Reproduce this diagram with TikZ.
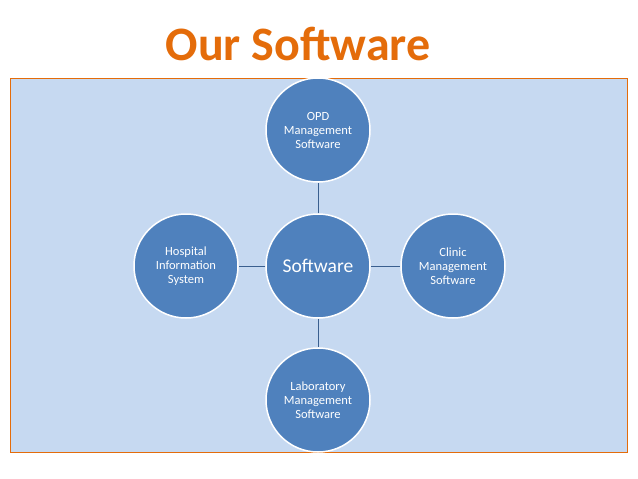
\documentclass[tikz,border=0pt]{standalone}
\usepackage{fontspec}
\setmainfont{Carlito}
\usetikzlibrary{positioning}
\definecolor{panel}{HTML}{C6D9F1}
\definecolor{bubble}{HTML}{4F81BD}
\definecolor{rim}{HTML}{E46C0A}
\definecolor{link}{HTML}{3A5F8F}
\begin{document}
\begin{tikzpicture}[x=1pt,y=-1pt,
    node distance=30pt, % spacing between circles
    ]
% -------------------------------------------------
\tikzset{
  hub/.style={circle, draw=white, line width=1.5pt, fill=bubble, text=white,
    minimum size=104pt, inner sep=0pt, align=center, font=\fontsize{12.5}{14}\selectfont},
  link/.style={draw=link, line width=1pt}
}
% -------------------------------------------------
\useasboundingbox (0,0) rectangle (638,479);
\fill[white] (0,0) rectangle (638,479);
\node[text=rim, font=\fontsize{48}{52}\selectfont\bfseries] (ttl) at (298,44) {Our Software};
\draw[rim, fill=panel, line width=0.6pt] (10,78) rectangle (627,452);

% Placing the circles
\node[hub, font=\fontsize{19.5}{22}\selectfont] (sw) at (318,266) {Software};
\node[hub] (opd) at (318,130) {OPD\\Management\\Software};
\node[hub] (his) at (186,266) {Hospital\\Information\\System};
\node[hub] (cms) at (453,266) {Clinic\\Management\\Software};
\node[hub] (lab) at (318,400) {Laboratory\\Management\\Software};

\path[link] (sw) -- (opd);
\path[link] (sw) -- (his);
\path[link] (sw) -- (cms);
\path[link] (sw) -- (lab);
\end{tikzpicture}
\end{document}
